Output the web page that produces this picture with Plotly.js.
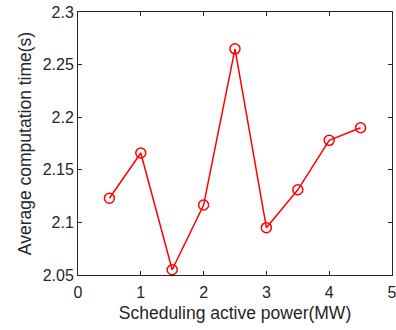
<!DOCTYPE html>
<html><head><meta charset="utf-8">
<script src="https://cdn.plot.ly/plotly-3.0.1.min.js"></script>
<style>html,body{margin:0;padding:0;background:#fff}#c{width:396px;height:330px}</style>
</head><body><div id="c"></div>
<script>
const power = [0.5, 1, 1.5, 2, 2.5, 3, 3.5, 4, 4.5];
const avgTime = [2.123, 2.166, 2.055, 2.1165, 2.265, 2.095, 2.131, 2.178, 2.190];
const xTicks = [0, 1, 2, 3, 4, 5];
const yTicks = [2.05, 2.1, 2.15, 2.2, 2.25, 2.3];
const yTickText = ['2.05', '2.1', '2.15', '2.2', '2.25', '2.3'];

const FONT = 'Liberation Sans, Arial, sans-serif';
const axisCommon = {
  showline: true, mirror: 'ticks', linecolor: '#262626', linewidth: 1,
  ticks: 'inside', ticklen: 4, tickcolor: '#262626', showgrid: false, zeroline: false,
  ticklabeloverflow: 'allow',
  tickfont: {family: FONT, size: 16, color: '#262626'}
};
Plotly.newPlot('c', [{
  x: power, y: avgTime, type: 'scatter', mode: 'lines+markers', cliponaxis: false,
  line: {color: '#ff0000', width: 1.5},
  marker: {symbol: 'circle-open', size: 10, color: '#ff0000', line: {width: 1.5, color: '#ff0000'}}
}], {
  width: 396, height: 330,
  margin: {l: 78, r: 4, t: 12, b: 55},
  paper_bgcolor: '#fff', plot_bgcolor: '#fff', showlegend: false,
  xaxis: Object.assign({}, axisCommon, {
    range: [0, 5], tickvals: xTicks, ticktext: xTicks.map(String), ticklabelstandoff: 3,
    title: {text: 'Scheduling active power(MW)', standoff: 6,
      font: {family: FONT, size: 17.5, color: '#262626'}}
  }),
  yaxis: Object.assign({}, axisCommon, {
    range: [2.05, 2.3], tickvals: yTicks, ticktext: yTickText,
    title: {text: 'Average computation time(s)', standoff: 6,
      font: {family: FONT, size: 17.5, color: '#262626'}}
  })
}, {staticPlot: true});
</script></body></html>
